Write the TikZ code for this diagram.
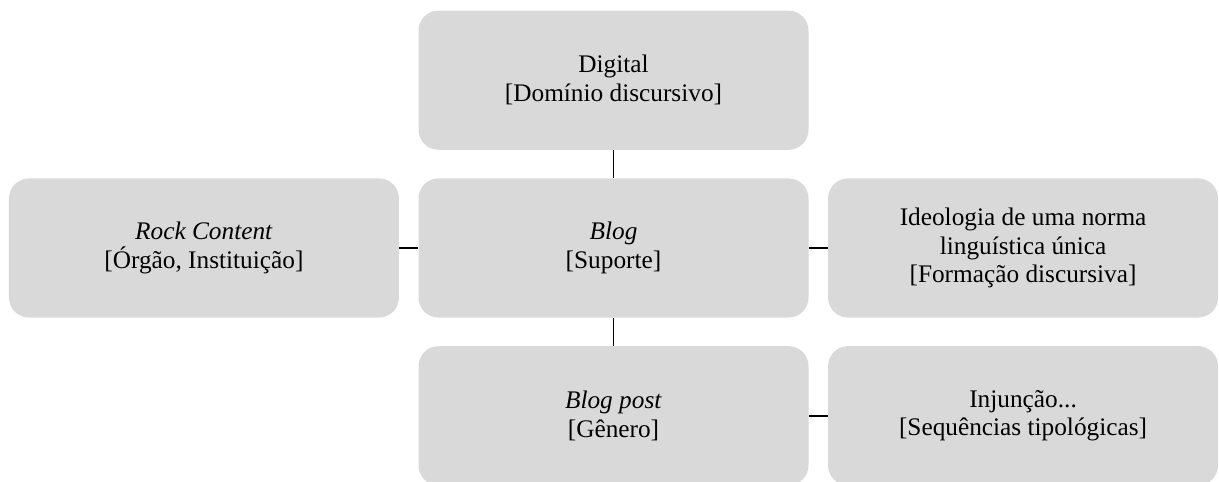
\documentclass[tikz,border=0pt]{standalone}
\usepackage{fontspec}
\setmainfont{Liberation Serif}
\usepackage{tikz}
\usetikzlibrary{positioning}

\begin{document}
\begin{tikzpicture}[
  node distance = 0.7cm and 0.475cm,
  blk/.style = {fill=black!15, rounded corners=0.5cm, align=center,
    minimum width=9.75cm, minimum height=3.48cm, inner sep=2pt,
    font=\fontsize{18}{20.5}\selectfont},
  link/.style = {line width=1.3pt}
  ]
	\useasboundingbox (0,0) rectangle (30.475,12.05);

	\node[blk] (sup) at (15.3375,5.85) {\textit{Blog}\\{[Suporte]}};
	\node[blk,above=of sup] (dom) {Digital\\{[Domínio discursivo]}};
	\node[blk,left=of sup] (org) {\textit{Rock Content}\\{[Órgão, Instituição]}};
	\node[blk,right=of sup] (form) {Ideologia de uma norma\\linguística única\\{[Formação discursiva]}};
	\node[blk,below=of sup] (gen) {\textit{Blog post}\\{[Gênero]}};
	\node[blk,right=of gen] (seq) {Injunção...\\{[Sequências tipológicas]}};

	\draw[link] (dom) -- (sup);
	\draw[link] (org) -- (sup);
	\draw[link] (sup) -- (form);
	\draw[link] (sup) -- (gen);
	\draw[link] (gen) -- (seq);

\end{tikzpicture}
\end{document}
